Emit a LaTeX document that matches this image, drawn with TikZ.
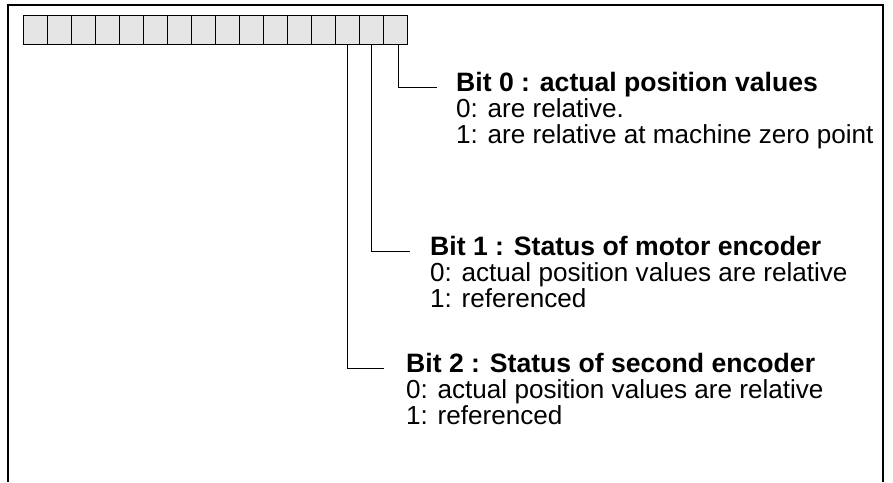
\documentclass[tikz,border=0pt]{standalone}
\usepackage{fontspec}
\setmainfont{Liberation Sans}
\begin{document}
\begin{tikzpicture}[x=1pt,y=-1pt,
  cell/.style={draw, fill=black!10, line width=1.1pt, minimum width=24.04pt, minimum height=29pt, inner sep=0, anchor=north west},
  wire/.style={line width=1pt},
  frame/.style={line width=2pt},
  ttl/.style={anchor=base west, inner sep=0, font=\fontsize{26.6}{30}\selectfont\bfseries},
  txt/.style={anchor=base west, inner sep=0, font=\fontsize{26.1}{30}\selectfont}]
\useasboundingbox (0,0) rectangle (893,482);
\draw[frame] (8,482) -- (8,5) -- (883,5) -- (883,482);
\foreach \i in {0,...,15} \node[cell] (c\i) at ({22.7+24.04*(15-\i)},15) {};
\coordinate (e0) at (437,87);
\coordinate (e1) at (410,251);
\coordinate (e2) at (384,368);
\draw[wire] ([xshift=3pt]c0.south) |- (e0);
\draw[wire] (c1.south) |- (e1);
\draw[wire] (c2.south) |- (e2);
\node[ttl] (b0t) at (456,91) {Bit 0 : actual position values};
\node[txt] (b0a) at (456,117) {0: are relative.};
\node[txt] (b0b) at (456,143) {1: are relative at machine zero point};
\node[ttl] (b1t) at (430,255) {Bit 1 : Status of motor encoder};
\node[txt] (b1a) at (430,281) {0: actual position values are relative};
\node[txt] (b1b) at (430,307) {1: referenced};
\node[ttl] (b2t) at (406,372) {Bit 2 : Status of second encoder};
\node[txt] (b2a) at (406,398) {0: actual position values are relative};
\node[txt] (b2b) at (406,424) {1: referenced};
\end{tikzpicture}
\end{document}
